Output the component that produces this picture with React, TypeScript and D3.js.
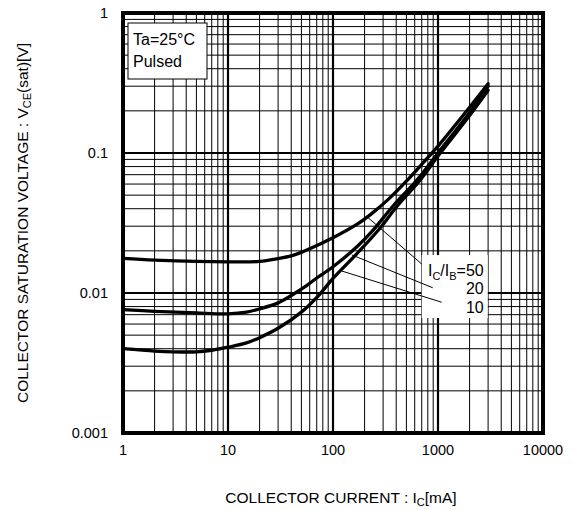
import * as d3 from "d3";

// I_C [mA] vs V_CE(sat) [V]
const curve50: [number, number][] = [
  [1, 0.0177], [2, 0.0172], [5, 0.0168], [10, 0.0167], [20, 0.0168], [30, 0.0176],
  [40, 0.0184], [50, 0.0195], [70, 0.0218], [100, 0.0248], [170, 0.031], [240, 0.0375],
  [350, 0.048], [500, 0.063], [700, 0.083], [1000, 0.112], [2000, 0.212], [3000, 0.312],
];
const curve20: [number, number][] = [
  [1, 0.0076], [2, 0.0074], [5, 0.0072], [10, 0.0071], [15, 0.0073], [20, 0.0077],
  [30, 0.0085], [40, 0.0096], [56, 0.0113], [70, 0.0128], [100, 0.0154], [170, 0.0215],
  [240, 0.028], [375, 0.042], [630, 0.064], [1000, 0.1], [2000, 0.195], [3000, 0.3],
];
const curve10: [number, number][] = [
  [1, 0.004], [2, 0.00385], [3, 0.0038], [5, 0.0038], [7, 0.0039], [10, 0.0041],
  [15, 0.0044], [20, 0.0048], [30, 0.0056], [50, 0.0073], [72, 0.0095], [100, 0.0127],
  [170, 0.0192], [280, 0.029], [400, 0.041], [674, 0.064], [1000, 0.095], [2000, 0.185],
  [3000, 0.28],
];

// leader lines from each curve to its label, [start, end] in data units
const leaders: [[number, number], [number, number]][] = [
  [[215, 0.0346], [700, 0.0161]],
  [[151, 0.0187], [891, 0.0109]],
  [[121, 0.01436], [1084, 0.00859]],
];
const ratioLabels = ["50", "20", "10"];

const xTicks = [1, 10, 100, 1000, 10000];
const xTickLabels = ["1", "10", "100", "1000", "10000"];
const yTicks = [0.001, 0.01, 0.1, 1];
const yTickLabels = ["0.001", "0.01", "0.1", "1"];

const width = 575;
const height = 510;
const marginLeft = 123;
const marginTop = 13;
const plotW = 420;
const plotH = 420;
const font = "'Liberation Sans', Arial, sans-serif";

export default function App() {
  const x = d3.scaleLog().domain([1, 10000]).range([marginLeft, marginLeft + plotW]);
  const y = d3.scaleLog().domain([0.001, 1]).range([marginTop + plotH, marginTop]);

  const line = d3
    .line<[number, number]>()
    .x((d) => x(d[0]))
    .y((d) => y(d[1]))
    .curve(d3.curveCatmullRom.alpha(0.5));

  const xMinor: number[] = [];
  [1, 10, 100, 1000].forEach((dec) => {
    for (let m = 2; m <= 9; m++) xMinor.push(dec * m);
  });
  const yMinor: number[] = [];
  [0.001, 0.01, 0.1].forEach((dec) => {
    for (let m = 2; m <= 9; m++) yMinor.push(dec * m);
  });

  const x0 = marginLeft;
  const x1 = marginLeft + plotW;
  const y0 = marginTop;
  const y1 = marginTop + plotH;

  // legend box sits at the end of the leader lines
  const legLeft = x(leaders[0][1][0]);
  const legTop = y(leaders[0][1][1]) - 9;
  const legRight = legLeft + 66;
  const legBottom = legTop + 63;

  return (
    <svg
      width={width}
      height={height}
      style={{ position: "absolute", left: 0, top: 0, background: "#fff" }}
      fontFamily={font}
    >
      <rect x={0} y={0} width={width} height={height} fill="#fff" />

      {/* grid */}
      <g stroke="#000" fill="none">
        {xMinor.map((v) => (
          <line key={"xm" + v} x1={x(v)} x2={x(v)} y1={y0} y2={y1} strokeWidth={1} />
        ))}
        {yMinor.map((v) => (
          <line key={"ym" + v} x1={x0} x2={x1} y1={y(v)} y2={y(v)} strokeWidth={1} />
        ))}
        {xTicks.slice(1, -1).map((v) => (
          <line key={"xM" + v} x1={x(v)} x2={x(v)} y1={y0} y2={y1} strokeWidth={2.2} />
        ))}
        {yTicks.slice(1, -1).map((v) => (
          <line key={"yM" + v} x1={x0} x2={x1} y1={y(v)} y2={y(v)} strokeWidth={2.2} />
        ))}
      </g>

      {/* Ta box */}
      <rect x={x0 + 5} y={y0 + 10} width={79} height={56} fill="#fff" stroke="#000" strokeWidth={1} />
      <text x={x0 + 10} y={y0 + 32} fontSize={16}>Ta=25°C</text>
      <text x={x0 + 10} y={y0 + 54} fontSize={16}>Pulsed</text>

      {/* legend box */}
      <rect x={legLeft} y={legTop} width={legRight - legLeft} height={legBottom - legTop} fill="#fff" />

      {/* leader lines */}
      <g stroke="#000" strokeWidth={1}>
        {leaders.map((l, i) => (
          <line key={"ld" + i} x1={x(l[0][0])} y1={y(l[0][1])} x2={x(l[1][0])} y2={y(l[1][1])} />
        ))}
      </g>

      {/* curves */}
      {[curve50, curve20, curve10].map((c, i) => (
        <path key={"c" + i} d={line(c) ?? ""} fill="none" stroke="#000" strokeWidth={3.3} strokeLinecap="round" />
      ))}

      {/* legend text */}
      <g fontSize={16} textAnchor="end">
        <text x={legRight - 4} y={legTop + 21}>
          I<tspan fontSize={11} dy={4}>C</tspan>
          <tspan dy={-4}>/I</tspan>
          <tspan fontSize={11} dy={4}>B</tspan>
          <tspan dy={-4}>={ratioLabels[0]}</tspan>
        </text>
        <text x={legRight - 4} y={legTop + 39}>{ratioLabels[1]}</text>
        <text x={legRight - 4} y={legTop + 58}>{ratioLabels[2]}</text>
      </g>

      {/* frame */}
      <rect x={x0} y={y0} width={plotW} height={plotH} fill="none" stroke="#000" strokeWidth={4} />

      {/* tick labels */}
      <g fontSize={14.5} textAnchor="middle">
        {xTicks.map((v, i) => (
          <text key={"xt" + v} x={x(v)} y={y1 + 22}>{xTickLabels[i]}</text>
        ))}
      </g>
      <g fontSize={14.5} textAnchor="end">
        {yTicks.map((v, i) => (
          <text key={"yt" + v} x={x0 - 15} y={y(v)} dy="0.35em">{yTickLabels[i]}</text>
        ))}
      </g>

      {/* axis titles */}
      <text x={341} y={503} fontSize={15.5} textAnchor="middle">
        COLLECTOR CURRENT : I<tspan fontSize={11} dy={3}>C</tspan>
        <tspan dy={-3}>[mA]</tspan>
      </text>
      <text transform={`translate(28,${(y0 + y1) / 2}) rotate(-90)`} fontSize={15.5} textAnchor="middle">
        COLLECTOR SATURATION VOLTAGE : V<tspan fontSize={11} dy={3}>CE</tspan>
        <tspan dy={-3}>(sat)[V]</tspan>
      </text>
    </svg>
  );
}
